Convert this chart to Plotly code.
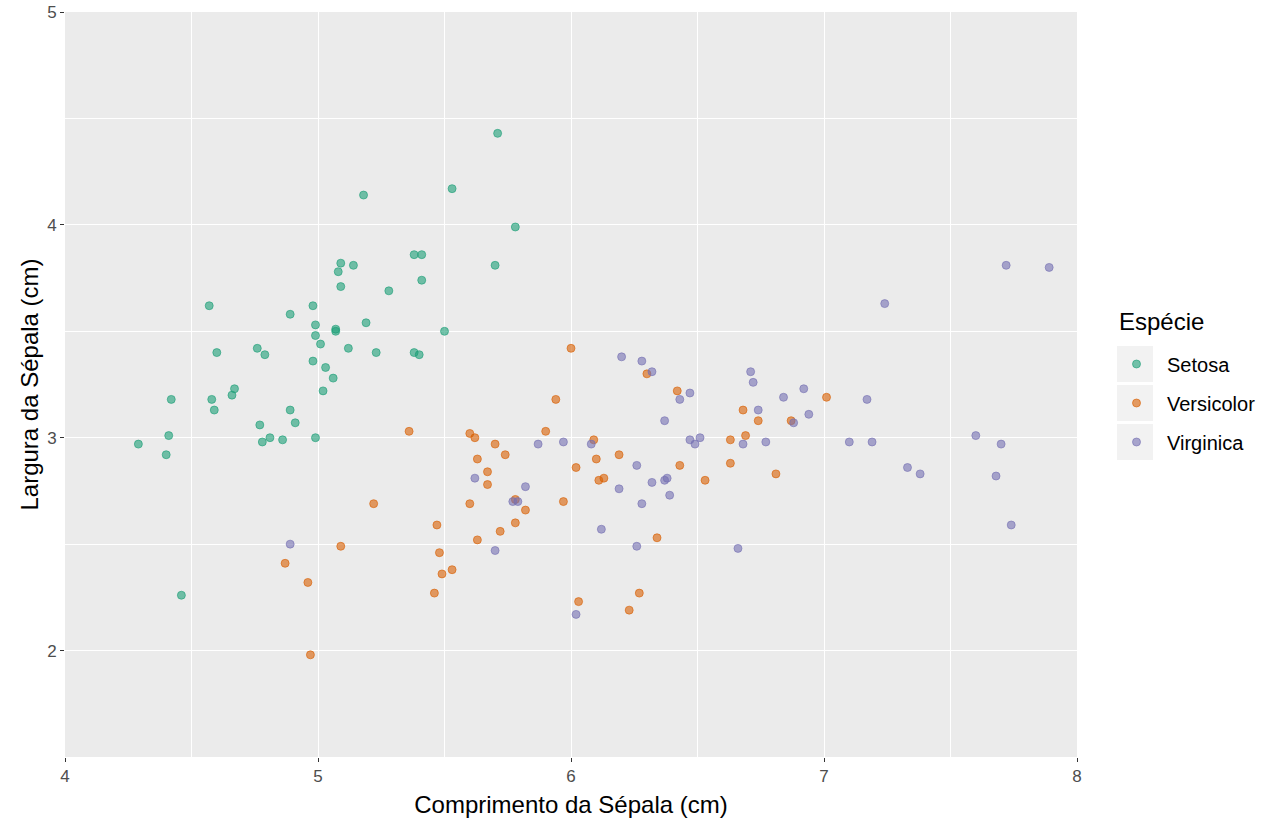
# -*- encoding: utf-8 -*-

"""
iris: largura x comprimento da sépala, por espécie
"""

import plotly.graph_objs as go

# valores (pontos com jitter)
setosa_x = [4.29, 4.40, 4.41, 4.42, 4.46, 4.57, 4.58, 4.59, 4.60, 4.66,
            4.67, 4.76, 4.77, 4.78, 4.79, 4.81, 4.86, 4.89, 4.89, 4.91,
            4.98, 4.99, 4.98, 4.99, 4.99, 5.01, 5.03, 5.02, 5.06, 5.07,
            5.07, 5.08, 5.09, 5.09, 5.12, 5.14, 5.18, 5.19, 5.23, 5.28,
            5.38, 5.38, 5.40, 5.41, 5.41, 5.50, 5.53, 5.70, 5.71, 5.78]
setosa_y = [2.97, 2.92, 3.01, 3.18, 2.26, 3.62, 3.18, 3.13, 3.40, 3.20,
            3.23, 3.42, 3.06, 2.98, 3.39, 3.00, 2.99, 3.13, 3.58, 3.07,
            3.62, 3.53, 3.36, 3.48, 3.00, 3.44, 3.33, 3.22, 3.28, 3.50,
            3.51, 3.78, 3.82, 3.71, 3.42, 3.81, 4.14, 3.54, 3.40, 3.69,
            3.40, 3.86, 3.39, 3.86, 3.74, 3.50, 4.17, 3.81, 4.43, 3.99]

versicolor_x = [4.87, 4.96, 4.97, 5.09, 5.22, 5.36, 5.46, 5.47, 5.48, 5.49,
                5.53, 5.60, 5.60, 5.62, 5.63, 5.63, 5.67, 5.67, 5.70, 5.72,
                5.74, 5.78, 5.78, 5.82, 5.90, 5.94, 5.97, 6.00, 6.02, 6.03,
                6.09, 6.10, 6.11, 6.13, 6.19, 6.23, 6.27, 6.30, 6.34, 6.42,
                6.43, 6.53, 6.63, 6.63, 6.68, 6.69, 6.74, 6.81, 6.87, 7.01]
versicolor_y = [2.41, 2.32, 1.98, 2.49, 2.69, 3.03, 2.27, 2.59, 2.46, 2.36,
                2.38, 2.69, 3.02, 3.00, 2.90, 2.52, 2.78, 2.84, 2.97, 2.56,
                2.92, 2.71, 2.60, 2.66, 3.03, 3.18, 2.70, 3.42, 2.86, 2.23,
                2.99, 2.90, 2.80, 2.81, 2.92, 2.19, 2.27, 3.30, 2.53, 3.22,
                2.87, 2.80, 2.99, 2.88, 3.13, 3.01, 3.08, 2.83, 3.08, 3.19]

virginica_x = [4.89, 5.62, 5.70, 5.77, 5.79, 5.82, 5.87, 5.97, 6.02, 6.08,
               6.12, 6.19, 6.20, 6.26, 6.26, 6.28, 6.28, 6.32, 6.32, 6.37,
               6.37, 6.38, 6.39, 6.43, 6.47, 6.47, 6.49, 6.51, 6.68, 6.66,
               6.71, 6.72, 6.74, 6.77, 6.84, 6.88, 6.92, 6.94, 7.10, 7.17,
               7.19, 7.24, 7.33, 7.38, 7.60, 7.68, 7.70, 7.72, 7.74, 7.89]
virginica_y = [2.50, 2.81, 2.47, 2.70, 2.70, 2.77, 2.97, 2.98, 2.17, 2.97,
               2.57, 2.76, 3.38, 2.87, 2.49, 3.36, 2.69, 2.79, 3.31, 3.08,
               2.80, 2.81, 2.73, 3.18, 3.21, 2.99, 2.97, 3.00, 2.97, 2.48,
               3.31, 3.26, 3.13, 2.98, 3.19, 3.07, 3.23, 3.11, 2.98, 3.18,
               2.98, 3.63, 2.86, 2.83, 3.01, 2.82, 2.97, 3.81, 2.59, 3.80]

species = ['Setosa', 'Versicolor', 'Virginica']
colors = ('rgba(27,158,119,0.6)', 'rgba(217,95,2,0.6)', 'rgba(117,112,179,0.6)')

W, H = 1280, 832
L, R, T, B = 65, 203, 12, 75


def px_to_paper(px, py):
    """pixel position on the page -> paper coords"""
    return (px - L) / (W - L - R), (H - B - py) / (H - T - B)


fig = go.Figure()
for name, color, xs, ys in zip(species, colors,
                               (setosa_x, versicolor_x, virginica_x),
                               (setosa_y, versicolor_y, virginica_y)):
    fig.add_trace(go.Scatter(x=xs, y=ys, mode='markers', name=name, legendgroup=name,
                             marker={'color': color, 'size': 8,
                                     'line': {'color': color, 'width': 1}}))

# grey key boxes behind the legend symbols (ggplot style)
shapes = []
for top in (346, 385, 424):
    x0, y0 = px_to_paper(1117, top)
    x1, y1 = px_to_paper(1153, top + 36)
    shapes.append({'type': 'rect', 'xref': 'paper', 'yref': 'paper', 'x0': x0, 'x1': x1,
                   'y0': y1, 'y1': y0, 'fillcolor': '#F2F2F2', 'line': {'width': 0},
                   'layer': 'below'})

lx, ly = px_to_paper(1106, 403)
tx, ty = px_to_paper(1117, 322)

axis_style = dict(showgrid=True, gridcolor='white', gridwidth=1.3, zeroline=False,
                  ticks='outside', ticklen=4, tickwidth=1.1, tickcolor='#333333',
                  tickfont={'size': 17, 'color': '#4D4D4D'}, showline=False, automargin=False,
                  minor={'dtick': 0.5, 'showgrid': True, 'gridcolor': 'white',
                         'gridwidth': 0.6, 'ticklen': 0})

fig.update_layout(width=W, height=H,
                  font={'family': 'Liberation Sans, Arial, sans-serif', 'color': 'black'},
                  paper_bgcolor='white', plot_bgcolor='#EBEBEB',
                  margin={'l': L, 'r': R, 't': T, 'b': B},
                  shapes=shapes,
                  annotations=[{'text': 'Espécie', 'xref': 'paper', 'yref': 'paper',
                                'x': tx, 'y': ty, 'xanchor': 'left', 'yanchor': 'middle',
                                'showarrow': False, 'font': {'size': 24}}],
                  legend={'font': {'size': 20}, 'x': lx, 'xanchor': 'left',
                          'y': ly, 'yanchor': 'middle', 'itemsizing': 'trace',
                          'itemwidth': 51, 'tracegroupgap': 10, 'bgcolor': 'rgba(0,0,0,0)'})
fig.update_xaxes(range=[4, 8], dtick=1, tick0=4,
                 title={'text': 'Comprimento da Sépala (cm)', 'font': {'size': 24}, 'standoff': 10},
                 **axis_style)
fig.update_yaxes(range=[1.5, 5], dtick=1, tick0=2,
                 title={'text': 'Largura da Sépala (cm)', 'font': {'size': 24}, 'standoff': 1},
                 **axis_style)

# no page margin, so the figure sits at the top-left corner of the window
fig.write_html('out.html', config={'displayModeBar': False},
               post_script="document.body.style.margin='0';")
